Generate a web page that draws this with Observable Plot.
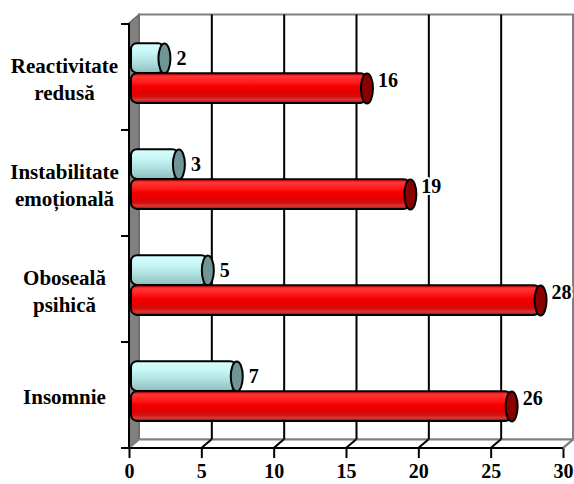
<!DOCTYPE html>
<html>
<head>
<meta charset="utf-8">
<script src="https://cdn.jsdelivr.net/npm/d3@7"></script>
<script src="https://cdn.jsdelivr.net/npm/@observablehq/plot@0.6"></script>
<style>
  html, body { margin: 0; padding: 0; background: white; }
  #chart svg g[aria-label^="x-axis"] path,
  #chart svg g[aria-label^="x-axis"] line { stroke-width: 2px; }
</style>
</head>
<body>
<div id="chart"></div>
<script>
// Categories (top to bottom) and their two-line axis labels
const categories = ["Reactivitate redusă", "Instabilitate emoțională", "Oboseală psihică", "Insomnie"];
const categoryLabels = ["Reactivitate\nredusă", "Instabilitate\nemoțională", "Oboseală\npsihică", "Insomnie"];

// Two series per category: the short light bars and the long red bars
const lightValues = [2, 3, 5, 7];
const redValues = [16, 19, 28, 26];

// Value axis ticks
const xTicks = [0, 5, 10, 15, 20, 25, 30];

const lightData = categories.map((c, i) => ({category: c, value: lightValues[i]}));
const redData = categories.map((c, i) => ({category: c, value: redValues[i]}));
const labelData = categories.map((c, i) => ({category: c, label: categoryLabels[i]}));

// Depth offset of the back wall relative to the front plane
const DX = 10, DY = -8.5;
// Bars sit halfway into the depth
const BX = 6, BY = -4;
const BAR_H = 30;
const BAND = (448 - 23) / categories.length;

// Elliptical end cap of a cylinder
const capSymbol = {
  draw(ctx) {
    const rx = 6, ry = BAR_H / 2, k = 0.5523;
    ctx.moveTo(rx, 0);
    ctx.bezierCurveTo(rx, ry * k, rx * k, ry, 0, ry);
    ctx.bezierCurveTo(-rx * k, ry, -rx, ry * k, -rx, 0);
    ctx.bezierCurveTo(-rx, -ry * k, -rx * k, -ry, 0, -ry);
    ctx.bezierCurveTo(rx * k, -ry, rx, -ry * k, rx, 0);
    ctx.closePath();
  }
};

// Back wall, left wall, floor and the gradients used by the cylinders
function walls(index, scales, values, dims) {
  const {width, height, marginLeft: L, marginRight: R, marginTop: T, marginBottom: B} = dims;
  const x0 = L, x1 = width - R, y0 = T, y1 = height - B;
  const g = d3.create("svg:g");
  const defs = g.append("defs");
  const grad = (id, stops) => {
    const lg = defs.append("linearGradient").attr("id", id)
      .attr("x1", 0).attr("y1", 0).attr("x2", 0).attr("y2", 1);
    stops.forEach(([o, c]) => lg.append("stop").attr("offset", o).attr("stop-color", c));
  };
  grad("redCyl", [[0, "#e00000"], [0.12, "#ff3535"], [0.3, "#ff1c1c"], [0.45, "#f40000"],
                  [0.65, "#e40000"], [0.8, "#d21010"], [0.9, "#d83a3a"], [1, "#b80000"]]);
  grad("lightCyl", [[0, "#d8ffff"], [0.3, "#c8f7f7"], [0.6, "#b2e2e2"], [0.85, "#9ccccc"], [1, "#8cbcbc"]]);

  g.append("rect")
    .attr("x", x0 + DX).attr("y", y0 + DY)
    .attr("width", x1 - x0).attr("height", y1 - y0)
    .attr("fill", "white").attr("stroke", "#808080").attr("stroke-width", 2);
  g.append("polygon")
    .attr("points", [[x0, y0], [x0 + DX, y0 + DY], [x0 + DX, y1 + DY], [x0, y1]].join(" "))
    .attr("fill", "#808080").attr("stroke", "#6a6a6a").attr("stroke-width", 1.5);
  g.append("polygon")
    .attr("points", [[x0, y1], [x0 + DX, y1 + DY], [x1 + DX, y1 + DY], [x1, y1]].join(" "))
    .attr("fill", "white").attr("stroke", "#808080").attr("stroke-width", 2);
  return g.node();
}

// Floor division lines, front edges and category boundary ticks
function edges(index, scales, values, dims) {
  const {width, height, marginLeft: L, marginRight: R, marginTop: T, marginBottom: B} = dims;
  const x0 = L, x1 = width - R, y0 = T, y1 = height - B;
  const g = d3.create("svg:g").attr("fill", "none");
  xTicks.slice(1).forEach((t, i, arr) => {
    const px = scales.x(t);
    g.append("line")
      .attr("x1", px).attr("y1", y1).attr("x2", px + DX).attr("y2", y1 + DY)
      .attr("stroke", i === arr.length - 1 ? "#808080" : "black").attr("stroke-width", 2);
  });
  g.append("line").attr("x1", x0).attr("y1", y0).attr("x2", x0).attr("y2", y1)
    .attr("stroke", "black").attr("stroke-width", 2);
  g.append("line").attr("x1", x0 - 8).attr("y1", y1).attr("x2", x1).attr("y2", y1)
    .attr("stroke", "black").attr("stroke-width", 2);
  const bounds = categories.map(c => scales.y(c)).concat([y1]);
  bounds.forEach(yb => {
    g.append("line").attr("x1", x0 - 8).attr("y1", yb).attr("x2", x0).attr("y2", yb)
      .attr("stroke", "black").attr("stroke-width", 2);
  });
  return g.node();
}

const barCommon = {y: "category", x1: d => 0, x2: "value", dx: BX, dy: BY,
  insetLeft: -4, rx: 6, stroke: "black", strokeWidth: 2};

const chart = Plot.plot({
  width: 574,
  height: 484,
  marginLeft: 129,
  marginRight: 11,
  marginTop: 23,
  marginBottom: 36,
  style: {
    fontFamily: "'Liberation Serif', 'Times New Roman', serif",
    fontSize: "20px",
    fontWeight: "bold",
    background: "white",
    color: "black"
  },
  x: {domain: [0, 30], ticks: xTicks, tickSize: 10, tickPadding: 5, label: null},
  y: {domain: categories, padding: 0, axis: null},
  marks: [
    walls,
    Plot.ruleX(xTicks.slice(1, -1), {dx: DX, dy: DY, stroke: "black", strokeWidth: 2}),
    edges,
    // light cylinders (upper half of each band)
    Plot.barX(lightData, {...barCommon, fill: "url(#lightCyl)",
      insetTop: BAND / 2 - BAR_H, insetBottom: BAND / 2}),
    Plot.dot(lightData, {x: "value", y: "category", dx: BX, dy: BY - BAR_H / 2,
      symbol: capSymbol, fill: "#6f9595", stroke: "black", strokeWidth: 2}),
    // red cylinders (lower half of each band)
    Plot.barX(redData, {...barCommon, fill: "url(#redCyl)",
      insetTop: BAND / 2, insetBottom: BAND / 2 - BAR_H}),
    Plot.dot(redData, {x: "value", y: "category", dx: BX, dy: BY + BAR_H / 2,
      symbol: capSymbol, fill: "#8a0000", stroke: "black", strokeWidth: 2}),
    // value labels
    Plot.text(lightData, {x: "value", y: "category", text: d => String(d.value),
      dx: 18, dy: BY - BAR_H / 2, textAnchor: "start", fontSize: 20, fontWeight: "bold",
      fill: "black", stroke: "white", strokeWidth: 4, paintOrder: "stroke"}),
    Plot.text(redData, {x: "value", y: "category", text: d => String(d.value),
      dx: 17, dy: BY + BAR_H / 2 - 8, textAnchor: "start", fontSize: 20, fontWeight: "bold",
      fill: "black", stroke: "white", strokeWidth: 4, paintOrder: "stroke"}),
    // category labels
    Plot.text(labelData, {y: "category", text: "label", frameAnchor: "left", dx: -65, dy: 0,
      textAnchor: "middle", lineHeight: 1.3, fontSize: 21, fontWeight: "bold", fill: "black"})
  ]
});

document.getElementById("chart").appendChild(chart);
</script>
</body>
</html>
